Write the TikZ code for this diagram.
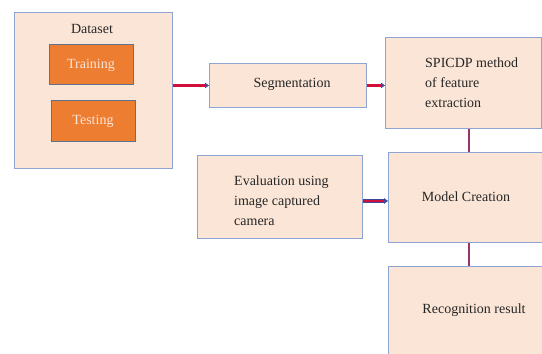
\documentclass[tikz,border=0pt]{standalone}
\usepackage{fontspec}
\setmainfont{Liberation Serif}
\usetikzlibrary{arrows.meta}
\definecolor{peach}{HTML}{FBE5D6}
\definecolor{edgeblue}{HTML}{8EA4D2}
\definecolor{orangebox}{HTML}{ED7D31}
\definecolor{orangeedge}{HTML}{5F7290}
\definecolor{flowred}{HTML}{D0103A}
\definecolor{flowblue}{HTML}{3B4A9C}
\definecolor{linkplum}{HTML}{9A3468}
\definecolor{ink}{HTML}{262626}
\tikzset{
  stage/.style={draw=edgeblue, fill=peach, line width=0.9pt, anchor=north west, inner sep=0pt},
  subset/.style={draw=orangeedge, fill=orangebox, line width=0.9pt, anchor=north west, inner sep=0pt},
  caption/.style={text=ink, font=\rmfamily\fontsize{14}{20}\selectfont, inner sep=0pt},
  flow/.style={draw=flowred, line width=2.4pt,
               preaction={draw=flowblue, line width=3.2pt},
               -{Latex[length=4pt,width=6pt,color=flowblue]}},
  link/.style={draw=linkplum, line width=2pt}
}
\begin{document}
\begin{tikzpicture}[x=1pt,y=-1pt]
  \useasboundingbox (0,0) rectangle (542,354);
  \clip (0,0) rectangle (542,354);

  % dataset with its two subsets
  \node[stage, minimum width=158pt, minimum height=156pt] (ds) at (14,12) {};
  \node[caption] (dstitle) at (92,29) {Dataset};
  \node[subset, minimum width=84pt, minimum height=40pt] (train) at (49,44) {};
  \node[caption, text=peach] (trainlbl) at (91,65) {Training};
  \node[subset, minimum width=84pt, minimum height=41pt] (test) at (51,100) {};
  \node[caption, text=peach] (testlbl) at (93,121) {Testing};

  % processing stages
  \node[stage, minimum width=157pt, minimum height=44pt] (seg) at (209,63) {};
  \node[caption] (seglbl) at (292,84) {Segmentation};

  \node[stage, minimum width=156pt, minimum height=91pt] (sp) at (385,37) {};
  \node[caption, align=left, anchor=west] (splbl) at (425,83)
       {SPICDP method\\of feature\\extraction};

  \node[stage, minimum width=162pt, minimum height=90pt] (model) at (388,152) {};
  \node[caption] (modellbl) at (466,197) {Model Creation};

  \node[stage, minimum width=165pt, minimum height=83pt] (eval) at (197,155) {};
  \node[caption, align=left, anchor=west] (evallbl) at (234,201)
       {Evaluation using\\image captured\\camera};

  \node[stage, minimum width=162pt, minimum height=110pt] (rec) at (388,266) {};
  \node[caption] (reclbl) at (474,310) {Recognition result};

  % connectors
  \draw[flow] (ds.east |- seg.west) -- (seg.west);
  \draw[flow] (seg.east) -- (sp.west |- seg.east);
  \draw[flow] ([yshift=-4pt]eval.east) -- ([yshift=-4pt]eval.east -| model.west);
  \draw[link] (sp.south -| model.north) -- (model.north);
  \draw[link] (model.south) -- (rec.north);
\end{tikzpicture}
\end{document}
